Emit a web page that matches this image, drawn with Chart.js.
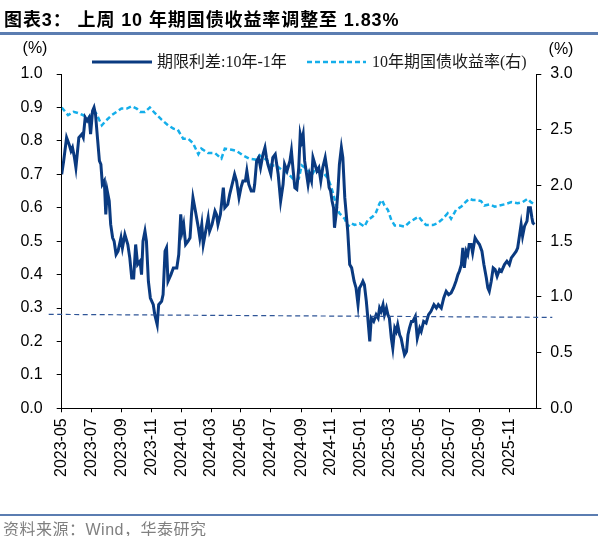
<!DOCTYPE html>
<html>
<head>
<meta charset="utf-8">
<script src="https://cdn.jsdelivr.net/npm/chart.js@4.4.1/dist/chart.umd.min.js"></script>
<style>
  html, body { margin: 0; padding: 0; background: #fff; overflow: hidden; }
  #wrap { position: relative; width: 598px; height: 536px; }
  #chart { position: absolute; left: 0; top: 0; }
  .title { position: absolute; left: 4px; top: 5px; line-height: 24px; font: bold 18px 'Liberation Sans', 'Noto Sans CJK SC', sans-serif; letter-spacing: 0.9px; color: #000; white-space: nowrap; }
  .rule { position: absolute; left: 0; width: 598px; background: #5b7db1; }
  .source { position: absolute; left: 3px; top: 516px; line-height: 17px; height: 17px; font: 16px 'Liberation Sans', 'Noto Sans CJK SC', sans-serif; letter-spacing: 0.5px; color: #808080; white-space: nowrap; }
</style>
</head>
<body>
<div id="wrap">
  <canvas id="chart" width="598" height="536"></canvas>
  <div class="title">图表3： 上周 10 年期国债收益率调整至 1.83%</div>
  <div class="rule" style="top:32px;height:3px"></div>
  <div class="source">资料来源：Wind，华泰研究</div>
  <div class="rule" style="top:514px;height:2px"></div>
</div>
<script>
// series names
const seriesNames = ['期限利差:10年-1年', '10年期国债收益率(右)'];

// x-axis tick labels (odd months)
const tickLabels = ['2023-05', '2023-07', '2023-09', '2023-11', '2024-01', '2024-03', '2024-05', '2024-07',
  '2024-09', '2024-11', '2025-01', '2025-03', '2025-05', '2025-07', '2025-09', '2025-11'];

// term spread 10y-1y (%), left axis
const spreadDates = [
  '2023-05-01','2023-05-05','2023-05-11','2023-05-16','2023-05-20','2023-05-23','2023-05-27','2023-05-30',
  '2023-06-03','2023-06-05','2023-06-11','2023-06-14','2023-06-18','2023-06-22','2023-06-26','2023-06-29',
  '2023-07-03','2023-07-06','2023-07-09','2023-07-13','2023-07-17','2023-07-20','2023-07-23','2023-07-27','2023-07-30',
  '2023-08-02','2023-08-06','2023-08-09','2023-08-13','2023-08-16','2023-08-20','2023-08-24','2023-08-30',
  '2023-09-02','2023-09-07','2023-09-13','2023-09-17','2023-09-21','2023-09-25','2023-09-29',
  '2023-10-03','2023-10-08','2023-10-11','2023-10-14','2023-10-18','2023-10-21','2023-10-25','2023-10-29',
  '2023-11-04','2023-11-07','2023-11-12','2023-11-15','2023-11-21','2023-11-24','2023-11-28',
  '2023-12-01','2023-12-04','2023-12-10','2023-12-15','2023-12-22','2023-12-26','2023-12-30',
  '2024-01-02','2024-01-05','2024-01-09','2024-01-14','2024-01-18','2024-01-21','2024-01-24','2024-01-29',
  '2024-02-04','2024-02-07','2024-02-11','2024-02-14','2024-02-19','2024-02-24','2024-02-27',
  '2024-03-03','2024-03-09','2024-03-12','2024-03-15','2024-03-20','2024-03-26','2024-03-29',
  '2024-04-04','2024-04-08','2024-04-13','2024-04-18','2024-04-22','2024-04-27',
  '2024-05-01','2024-05-05','2024-05-10','2024-05-13','2024-05-17','2024-05-22','2024-05-27','2024-05-29',
  '2024-06-02','2024-06-06','2024-06-10','2024-06-15','2024-06-19','2024-06-22','2024-06-25',
  '2024-07-01','2024-07-05','2024-07-10','2024-07-16','2024-07-21','2024-07-26','2024-07-29',
  '2024-08-03','2024-08-09','2024-08-12','2024-08-15','2024-08-19','2024-08-23','2024-08-27','2024-08-30',
  '2024-09-02','2024-09-05','2024-09-08','2024-09-12','2024-09-15','2024-09-18','2024-09-22','2024-09-25','2024-09-29',
  '2024-10-03','2024-10-07','2024-10-11','2024-10-15','2024-10-20','2024-10-24','2024-10-28','2024-10-31',
  '2024-11-03','2024-11-06','2024-11-08','2024-11-12','2024-11-15','2024-11-18','2024-11-22','2024-11-25','2024-11-29',
  '2024-12-02','2024-12-05','2024-12-09','2024-12-13','2024-12-18','2024-12-22','2024-12-26','2024-12-29',
  '2025-01-02','2025-01-05','2025-01-08','2025-01-12','2025-01-15','2025-01-19','2025-01-22','2025-01-27',
  '2025-02-01','2025-02-05','2025-02-08','2025-02-11','2025-02-15','2025-02-18','2025-02-22','2025-02-25','2025-02-28',
  '2025-03-04','2025-03-07','2025-03-11','2025-03-14','2025-03-17','2025-03-21','2025-03-24','2025-03-28','2025-03-31',
  '2025-04-04','2025-04-07','2025-04-10','2025-04-14','2025-04-17','2025-04-22','2025-04-26',
  '2025-05-01','2025-05-04','2025-05-09','2025-05-14','2025-05-19','2025-05-24','2025-05-30',
  '2025-06-04','2025-06-08','2025-06-14','2025-06-19','2025-06-24','2025-06-29',
  '2025-07-04','2025-07-09','2025-07-14','2025-07-18','2025-07-21','2025-07-25','2025-07-28','2025-07-31',
  '2025-08-04','2025-08-07','2025-08-10','2025-08-14','2025-08-17','2025-08-22','2025-08-26','2025-08-31',
  '2025-09-05','2025-09-09','2025-09-14','2025-09-17','2025-09-20','2025-09-24','2025-09-28',
  '2025-10-02','2025-10-06','2025-10-11','2025-10-15','2025-10-21','2025-10-26','2025-10-31',
  '2025-11-04','2025-11-09','2025-11-14','2025-11-17','2025-11-21','2025-11-24','2025-11-27',
  '2025-12-01','2025-12-06','2025-12-09','2025-12-13','2025-12-16','2025-12-18','2025-12-21'
];
const spreadValues = [
  0.70, 0.74, 0.81, 0.79, 0.77, 0.78, 0.75, 0.72,
  0.78, 0.81, 0.82, 0.81, 0.87, 0.86, 0.87, 0.82,
  0.89, 0.90, 0.88, 0.81, 0.74, 0.73, 0.67, 0.68, 0.58,
  0.65, 0.62, 0.55, 0.51, 0.50, 0.46, 0.47, 0.51,
  0.48, 0.52, 0.49, 0.45, 0.39, 0.39, 0.49,
  0.43, 0.44, 0.40, 0.50, 0.53, 0.50, 0.38, 0.33,
  0.31, 0.28, 0.25, 0.31, 0.32, 0.34, 0.47,
  0.48, 0.38, 0.40, 0.42, 0.42, 0.46, 0.58,
  0.53, 0.55, 0.49, 0.50, 0.51, 0.58, 0.63, 0.59,
  0.54, 0.51, 0.55, 0.49, 0.53, 0.57, 0.53,
  0.55, 0.59, 0.58, 0.55, 0.58, 0.66, 0.60,
  0.61, 0.64, 0.67, 0.70, 0.68, 0.63,
  0.66, 0.68, 0.68, 0.71, 0.67, 0.65, 0.65, 0.67,
  0.74, 0.75, 0.72, 0.76, 0.78, 0.75, 0.73,
  0.70, 0.75, 0.76, 0.70, 0.62, 0.67, 0.73,
  0.71, 0.74, 0.77, 0.72, 0.66, 0.655, 0.72, 0.82,
  0.80, 0.82, 0.74, 0.70, 0.67, 0.70, 0.68, 0.75, 0.73,
  0.71, 0.72, 0.68, 0.72, 0.75, 0.71, 0.66, 0.65,
  0.62, 0.60, 0.54, 0.59, 0.65, 0.73, 0.78, 0.75, 0.63,
  0.58, 0.53, 0.43, 0.42, 0.38, 0.36, 0.31, 0.36,
  0.37, 0.38, 0.37, 0.32, 0.27, 0.20, 0.27, 0.26,
  0.28, 0.27, 0.30, 0.29, 0.31, 0.28, 0.30, 0.28, 0.27,
  0.21, 0.18, 0.24, 0.23, 0.25, 0.22, 0.21, 0.18, 0.16,
  0.17, 0.22, 0.24, 0.26, 0.26, 0.275, 0.21,
  0.24, 0.23, 0.26, 0.255, 0.28, 0.29, 0.31,
  0.30, 0.31, 0.30, 0.33, 0.35, 0.34,
  0.345, 0.36, 0.38, 0.40, 0.41, 0.43, 0.48, 0.42,
  0.47, 0.46, 0.49, 0.49, 0.465, 0.51, 0.50, 0.49,
  0.47, 0.43, 0.39, 0.36, 0.35, 0.38, 0.42,
  0.415, 0.395, 0.415, 0.41, 0.43, 0.44, 0.43,
  0.45, 0.46, 0.47, 0.48, 0.52, 0.55, 0.515,
  0.545, 0.56, 0.60, 0.60, 0.57, 0.555, 0.55
];

// 10y government bond yield (%), right axis
const yieldDates = [
  '2023-05-01','2023-05-14','2023-05-25','2023-06-03','2023-06-14','2023-06-24',
  '2023-07-01','2023-07-10','2023-07-22','2023-07-30','2023-08-11','2023-08-21','2023-08-31',
  '2023-09-11','2023-09-21','2023-10-01','2023-10-08','2023-10-18','2023-10-28',
  '2023-11-07','2023-11-21','2023-12-04','2023-12-15','2023-12-24',
  '2024-01-04','2024-01-14','2024-01-24','2024-02-04','2024-02-10','2024-02-24',
  '2024-03-09','2024-03-22','2024-03-29','2024-04-12','2024-04-22','2024-05-05','2024-05-18',
  '2024-06-02','2024-06-08','2024-06-22','2024-07-02','2024-07-12','2024-07-23',
  '2024-08-05','2024-08-15','2024-08-23','2024-08-27','2024-09-02','2024-09-12','2024-09-22','2024-09-29',
  '2024-10-09','2024-10-17','2024-10-26','2024-11-01','2024-11-07','2024-11-12','2024-11-18','2024-11-29',
  '2024-12-05','2024-12-12','2024-12-19','2024-12-29',
  '2025-01-08','2025-01-15','2025-01-25','2025-02-01','2025-02-08','2025-02-13','2025-02-18','2025-02-25',
  '2025-03-04','2025-03-11','2025-03-21','2025-03-31','2025-04-10','2025-04-21','2025-04-29',
  '2025-05-04','2025-05-14','2025-05-28','2025-06-06','2025-06-17','2025-06-27',
  '2025-07-04','2025-07-14','2025-07-25','2025-07-31','2025-08-10','2025-08-17','2025-08-24',
  '2025-09-03','2025-09-10','2025-09-20','2025-10-01','2025-10-11','2025-10-21',
  '2025-11-04','2025-11-17','2025-11-27','2025-12-07','2025-12-14','2025-12-21'
];
const yieldValues = [
  2.70, 2.63, 2.66, 2.65, 2.63, 2.60,
  2.65, 2.65, 2.54, 2.58, 2.63, 2.66, 2.69,
  2.69, 2.71, 2.69, 2.66, 2.66, 2.70,
  2.65, 2.59, 2.54, 2.51, 2.50,
  2.42, 2.42, 2.38, 2.28, 2.33, 2.29,
  2.29, 2.24, 2.33, 2.32, 2.31, 2.27, 2.24,
  2.23, 2.27, 2.23, 2.18, 2.18, 2.14,
  2.11, 2.06, 2.05, 2.06, 2.18, 2.15, 2.09, 2.14,
  2.13, 2.11, 2.06, 1.99, 1.90, 1.81, 1.75, 1.70,
  1.63, 1.66, 1.645, 1.66,
  1.63, 1.69, 1.72, 1.76, 1.84, 1.87, 1.82, 1.78,
  1.69, 1.64, 1.64, 1.63, 1.67, 1.70, 1.72,
  1.69, 1.644, 1.644, 1.66, 1.70, 1.75,
  1.70, 1.78, 1.81, 1.84, 1.88, 1.87, 1.87,
  1.86, 1.82, 1.83, 1.81, 1.82, 1.83,
  1.85, 1.84, 1.85, 1.88, 1.85, 1.83
];

// dashed reference line on the left axis (value at left end, value at right end)
const refLine = [0.281, 0.272];

const startDate = '2023-05-01';
const endDate = '2025-12-25';

function dayOf(s) {
  const p = s.split('-').map(Number);
  const q = startDate.split('-').map(Number);
  return (Date.UTC(p[0], p[1] - 1, p[2] || 1) - Date.UTC(q[0], q[1] - 1, q[2])) / 86400000;
}

const spreadColor = '#0a3a80';
const yieldColor = '#14aeea';
const tickFont = { family: "'Liberation Sans', Arial, sans-serif", size: 16 };

const spreadPoints = spreadDates.map((d, i) => ({ x: dayOf(d), y: spreadValues[i] }));
const yieldPoints = yieldDates.map((d, i) => ({ x: dayOf(d), y: yieldValues[i] }));
const tickDays = tickLabels.map(t => dayOf(t + '-01'));

const overlay = {
  id: 'overlay',
  afterDatasetsDraw(chart) {
    const ctx = chart.ctx, area = chart.chartArea, ys = chart.scales.y;
    ctx.save();
    ctx.strokeStyle = '#2f5597';
    ctx.lineWidth = 1.2;
    ctx.setLineDash([5, 3.5]);
    ctx.beginPath();
    ctx.moveTo(area.left - 13, ys.getPixelForValue(refLine[0]));
    ctx.lineTo(area.right + 16, ys.getPixelForValue(refLine[1]));
    ctx.stroke();
    ctx.restore();
  },
  afterDraw(chart) {
    const ctx = chart.ctx;
    ctx.save();
    // axis units
    ctx.font = "16px 'Liberation Sans', Arial, sans-serif";
    ctx.fillStyle = '#000';
    ctx.textAlign = 'center';
    ctx.textBaseline = 'middle';
    ctx.fillText('(%)', 35, 49);
    ctx.fillText('(%)', 561, 50);
    // legend
    const ly = 62;
    ctx.lineWidth = 3;
    ctx.strokeStyle = spreadColor;
    ctx.setLineDash([]);
    ctx.beginPath(); ctx.moveTo(92, ly); ctx.lineTo(152, ly); ctx.stroke();
    ctx.lineWidth = 2.5;
    ctx.strokeStyle = yieldColor;
    ctx.setLineDash([5, 3]);
    ctx.beginPath(); ctx.moveTo(307, ly); ctx.lineTo(366, ly); ctx.stroke();
    ctx.font = "16px 'Liberation Serif', 'Noto Sans CJK SC', serif";
    ctx.fillStyle = '#1a1a1a';
    ctx.textAlign = 'left';
    ctx.fillText(seriesNames[0], 157, ly + 1);
    ctx.fillText(seriesNames[1], 372, ly + 1);
    ctx.restore();
  }
};

new Chart(document.getElementById('chart'), {
  type: 'line',
  data: {
    datasets: [
      {
        label: seriesNames[0],
        data: spreadPoints,
        yAxisID: 'y',
        borderColor: spreadColor,
        borderWidth: 3,
        pointRadius: 0,
        tension: 0,
        order: 0
      },
      {
        label: seriesNames[1],
        data: yieldPoints,
        yAxisID: 'y2',
        borderColor: yieldColor,
        borderWidth: 2.5,
        borderDash: [5, 3],
        pointRadius: 0,
        tension: 0,
        order: 1
      }
    ]
  },
  options: {
    responsive: false,
    animation: false,
    events: [],
    layout: { padding: { top: 74, left: 0, right: 0, bottom: 0 } },
    plugins: { legend: { display: false }, tooltip: { enabled: false } },
    scales: {
      x: {
        type: 'linear',
        min: 0,
        max: dayOf(endDate),
        afterBuildTicks: scale => { scale.ticks = tickDays.map(v => ({ value: v })); },
        afterFit: scale => { scale.height = 127.7; },
        ticks: {
          autoSkip: false,
          maxRotation: 90,
          minRotation: 90,
          padding: 6,
          color: '#000',
          font: tickFont,
          callback: v => tickLabels[tickDays.indexOf(v)]
        },
        grid: { drawOnChartArea: false, drawTicks: true, tickLength: 4, color: '#000' },
        border: { display: true, color: '#000', width: 1 }
      },
      y: {
        position: 'left',
        min: 0,
        max: 1,
        afterFit: scale => { scale.width = 61.7; },
        ticks: { stepSize: 0.1, padding: 14, color: '#000', font: tickFont, callback: v => v.toFixed(1) },
        grid: { drawOnChartArea: false, drawTicks: true, tickLength: 5, color: '#000' },
        border: { display: true, color: '#000', width: 1 }
      },
      y2: {
        position: 'right',
        min: 0,
        max: 3,
        afterFit: scale => { scale.width = 61.7; },
        ticks: { stepSize: 0.5, padding: 9, color: '#000', font: tickFont, callback: v => v.toFixed(1) },
        grid: { drawOnChartArea: false, drawTicks: true, tickLength: 5, color: '#000' },
        border: { display: true, color: '#000', width: 1 }
      }
    }
  },
  plugins: [overlay]
});
</script>
</body>
</html>
